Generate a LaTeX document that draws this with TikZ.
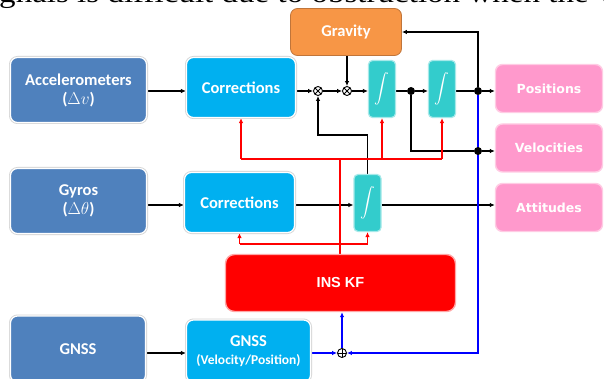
\documentclass[tikz,border=0pt]{standalone}
\usepackage{fontspec}
\usepackage{graphicx}
\setmainfont{Carlito}
\newfontfamily\outfont{DejaVu Sans}
\newfontfamily\kffont{Liberation Sans}
\newfontfamily\bodyserif{Liberation Serif}
\usetikzlibrary{arrows.meta}

\definecolor{sensorblue}{HTML}{4F81BD}
\definecolor{corrblue}{HTML}{00B0F0}
\definecolor{gravorange}{HTML}{F79646}
\definecolor{gravedge}{HTML}{C0753A}
\definecolor{intteal}{HTML}{33CCCC}
\definecolor{intedge}{HTML}{A6E9E9}
\definecolor{outpink}{HTML}{FF99CC}
\definecolor{outedge}{HTML}{FFCCE4}
\definecolor{kfred}{HTML}{FF0000}
\definecolor{fbblue}{HTML}{0000FF}

\pgfdeclarelayer{paper}
\pgfdeclarelayer{wires}
\pgfsetlayers{paper,wires,main}

% integral sign drawn inside the integrator blocks
\newcommand\integsign{\resizebox{!}{20pt}{$\displaystyle\int$}}

\tikzset{
  halo/.style={preaction={draw=black!16, line width=3pt}},
  blockbase/.style={rounded corners=7pt, inner sep=2pt, align=center, text=white,
    font=\bfseries\fontsize{16.5}{19}\selectfont},
  sensor/.style={blockbase, fill=sensorblue, draw=white, line width=1.2pt, halo},
  corrbox/.style={blockbase, fill=corrblue, draw=white, line width=1.2pt, halo},
  gravbox/.style={blockbase, fill=gravorange, draw=gravedge, line width=0.8pt},
  integ/.style={rounded corners=4pt, fill=intteal, draw=intedge, line width=1.2pt,
    minimum width=27pt, minimum height=57pt, inner sep=0pt, text=white},
  outbox/.style={rounded corners=7pt, fill=outpink, draw=outedge, line width=1.4pt,
    text=white, font=\outfont\bfseries\fontsize{12.5}{15}\selectfont,
    minimum width=107pt, minimum height=48pt, inner sep=0pt},
  kfbox/.style={rounded corners=9pt, fill=kfred, draw=red!35, line width=1.4pt,
    text=white, font=\kffont\bfseries\fontsize{14.5}{16}\selectfont},
  junction/.style={circle, fill=black, inner sep=0pt, minimum size=8pt},
  mult/.style={circle, draw=black, fill=white, line width=0.9pt, inner sep=0pt,
    minimum size=9pt,
    path picture={\draw[line width=0.8pt]
      (path picture bounding box.south west) -- (path picture bounding box.north east)
      (path picture bounding box.north west) -- (path picture bounding box.south east);}},
  summer/.style={circle, draw=black, fill=white, line width=0.9pt, inner sep=0pt,
    minimum size=9pt,
    path picture={\draw[line width=0.8pt]
      (path picture bounding box.north) -- (path picture bounding box.south)
      (path picture bounding box.west) -- (path picture bounding box.east);}},
  wire/.style={line width=1.3pt, draw=black},
  arr/.style={wire, -{Latex[length=5pt,width=4.5pt]}},
  redwire/.style={line width=1.4pt, draw=kfred},
  redarr/.style={redwire, -{Latex[length=5pt,width=4.5pt]}},
  bluewire/.style={line width=1.4pt, draw=fbblue},
  bluearr/.style={bluewire, -{Latex[length=5pt,width=4.5pt]}},
}

\begin{document}
\begin{tikzpicture}[x=1pt,y=-1pt]
\useasboundingbox (0,0) rectangle (604,379);
\begin{pgfonlayer}{paper}
  \fill[white] (0,0) rectangle (604,379);
\end{pgfonlayer}

% running text of the page above the figure
\node[anchor=base west, inner sep=0pt, transform shape, xscale=1.18,
      font=\bodyserif\fontsize{28}{28}\selectfont]
  (pagetext) at (-1,2.5) {gnals is difficult due to obstruction when the v};

% sensor blocks
\node[sensor, minimum width=136pt, minimum height=65pt] (acc) at (78.5,90) {Accelerometers\\($\Delta v$)};
\node[sensor, minimum width=136pt, minimum height=65pt] (gyr) at (78.5,201) {Gyros\\($\Delta\theta$)};
\node[sensor, minimum width=135pt, minimum height=66pt] (gnss) at (78,349) {GNSS};

% correction blocks
\node[corrbox, minimum width=109pt, minimum height=60pt] (corr1) at (241,87.5) {Corrections};
\node[corrbox, minimum width=110pt, minimum height=60pt] (corr2) at (239.5,202.5) {Corrections};
\node[corrbox, minimum width=124pt, minimum height=62pt] (gvp) at (248.5,351)
  {GNSS\\[-1pt]{\fontsize{13.5}{15}\selectfont(Velocity/Position)}};

% gravity model
\node[gravbox, minimum width=111pt, minimum height=47pt] (grav) at (346,32) {Gravity};

% integrators
\node[integ] (int1) at (382,89) {\integsign};
\node[integ] (int2) at (442,89) {\integsign};
\node[integ] (int3) at (367.5,203) {\integsign};

% outputs
\node[outbox] (pos) at (549,88.5) {Positions};
\node[outbox] (vel) at (549,148) {Velocities};
\node[outbox] (att) at (549,207.5) {Attitudes};

% Kalman filter
\node[kfbox, minimum width=230pt, minimum height=57pt] (kf) at (340.5,283) {INS KF};

% summing points and junctions
\node[mult] (ot1) at (318,91) {};
\node[mult] (ot2) at (347,91) {};
\node[summer] (op) at (342,353) {};
\node[junction] (d1) at (411,91) {};
\node[junction] (d2) at (478,91) {};
\node[junction] (d3) at (478,151) {};

% routing points
\coordinate (gfb) at (478,32);
\coordinate (tilt) at (318,135);
\coordinate (gyrow) at (0,205);
\coordinate (redtop) at (340,159);
\coordinate (redlow) at (340,244);

\begin{pgfonlayer}{wires}
  % specific force path
  \draw[arr] (acc.east |- ot1) -- (corr1.west |- ot1);
  \draw[arr] (corr1.east |- ot1) -- (ot1.west);
  \draw[arr] (ot1.east) -- (ot2.west);
  \draw[arr] (grav.south -| ot2) -- (ot2.north);
  \draw[arr] (ot2.east) -- (int1.west |- ot2);
  \draw[wire] (int1.east |- d1) -- (d1);
  \draw[arr] (d1) -- (int2.west |- d1);
  \draw[wire] (int2.east |- d2) -- (d2);
  \draw[arr] (d2) -- (pos.west |- d2);
  \draw[arr] (d2) |- (grav.east |- gfb);
  \draw[wire] (d1) |- (d3);
  \draw[arr] (d3) -- (vel.west |- d3);
  \draw[arr] (int3.north) |- (tilt) -- (ot1.south);

  % angular rate path
  \draw[arr] (gyr.east |- gyrow) -- (corr2.west |- gyrow);
  \draw[arr] (corr2.east |- gyrow) -- (int3.west |- gyrow);
  \draw[arr] (int3.east |- gyrow) -- (att.west |- gyrow);

  % GNSS aiding
  \draw[arr] (gnss.east |- op) -- (gvp.west |- op);
  \draw[bluearr] (gvp.east |- op) -- (op.west);
  \draw[bluearr] (d2) |- (op.east);
  \draw[bluearr] (op.north) -- (op |- kf.south);

  % filter corrections
  \draw[redwire] (kf.north -| redtop) -- (redtop);
  \draw[redwire] (corr1.south |- redtop) -- (int2.south |- redtop);
  \draw[redarr] (corr1.south |- redtop) -- (corr1.south);
  \draw[redarr] (int1.south |- redtop) -- (int1.south);
  \draw[redarr] (int2.south |- redtop) -- (int2.south);
  \draw[redwire] (corr2.south |- redlow) -- (int3.south |- redlow);
  \draw[redarr] (corr2.south |- redlow) -- (corr2.south);
  \draw[redarr] (int3.south |- redlow) -- (int3.south);
\end{pgfonlayer}
\end{tikzpicture}
\end{document}
